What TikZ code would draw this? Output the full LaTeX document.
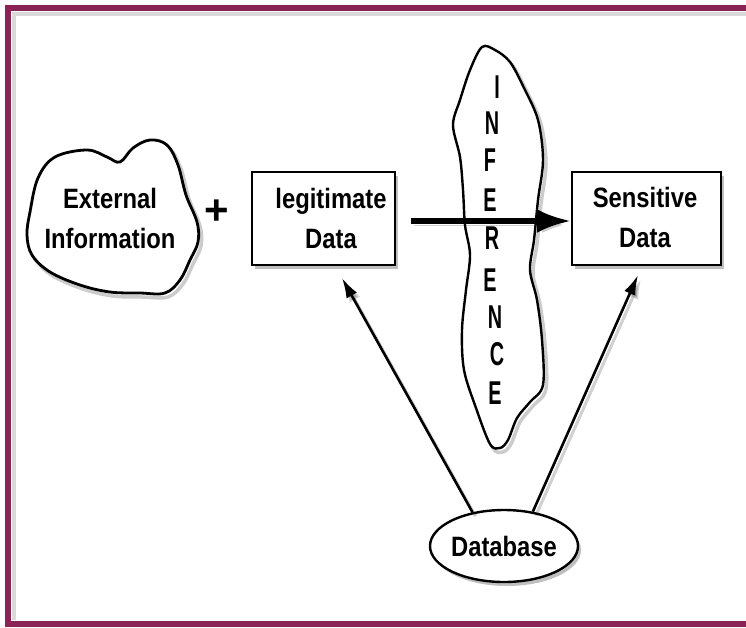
\documentclass[tikz,border=0pt]{standalone}
\usepackage{fontspec}
\setmainfont{Liberation Sans}
\usetikzlibrary{arrows.meta,shapes.geometric,calc,shadows}
\definecolor{framecol}{RGB}{137,36,86}
\begin{document}
\begin{tikzpicture}[x=1pt,y=-1pt,
  lbl/.style={font=\fontsize{28}{40}\selectfont\bfseries, align=center, xscale=0.85, inner sep=0pt},
  letter/.style={font=\fontsize{33}{33}\selectfont\bfseries, xscale=0.6, inner sep=0pt},
  boxnode/.style={draw, fill=white, line width=2.4pt, minimum height=93pt, inner sep=0pt,
    drop shadow={shadow xshift=3pt, shadow yshift=-4pt, opacity=0.25, fill=black}},
  dbnode/.style={ellipse, draw, fill=white, line width=2.4pt, minimum width=148pt, minimum height=72pt, inner sep=0pt,
    drop shadow={shadow xshift=3pt, shadow yshift=-4pt, opacity=0.25, fill=black}},
  blob/.style={draw, fill=white, line width=2.8pt},
  blobshadow/.style={draw=black, opacity=0.2, line width=3.5pt, transform canvas={shift={(3pt,-4pt)}}},
  conn/.style={line width=2.6pt, -{Latex[length=20pt,width=12pt]},
    preaction={draw=black, opacity=0.18, line width=3pt, transform canvas={shift={(3pt,-4pt)}}}},
  mainarrow/.style={line width=5.5pt, -{Latex[length=34pt,width=24pt]},
    preaction={draw=black, opacity=0.18, transform canvas={shift={(3pt,-4pt)}}}}
]
\useasboundingbox (0,0) rectangle (746,627);
\fill[white] (0,0) rectangle (746,627);
% frame
\draw[black, opacity=0.15, line width=4pt] (14,620) -- (14,14) -- (746,14);
\draw[framecol, line width=6pt] (8,8) rectangle (800,624);

% External Information blob
\draw[blobshadow] plot[smooth cycle, tension=0.6] coordinates {(30,212) (38,178) (55,157) (87,150) (107,157) (120,162) (133,148) (150,140) (167,145) (178,165) (186,195) (197,222) (198,242) (190,260) (180,280) (165,293) (140,293) (110,292) (80,285) (50,272) (32,255) (27,235)};
\draw[blob] plot[smooth cycle, tension=0.6] coordinates {(30,212) (38,178) (55,157) (87,150) (107,157) (120,162) (133,148) (150,140) (167,145) (178,165) (186,195) (197,222) (198,242) (190,260) (180,280) (165,293) (140,293) (110,292) (80,285) (50,272) (32,255) (27,235)};
\node[lbl] (ext) at (110,218) {External\\Information};

% plus
\node[font=\fontsize{42}{42}\selectfont\bfseries, inner sep=0pt] (plus) at (217,212) {+};

% legitimate data box
\node[boxnode, minimum width=143pt] (legit) at (323.5,218.5) {};
\node[lbl] (legitT) at (331,218) {legitimate\\Data};

% sensitive data box
\node[boxnode, minimum width=149pt] (sens) at (646.5,218.5) {};
\node[lbl] (sensT) at (645,217) {Sensitive\\Data};

% Inference blob
\draw[blobshadow] plot[smooth cycle, tension=0.55] coordinates {(482,47) (495,50) (510,62) (524,88) (538,120) (543,160) (538,200) (534,240) (530,270) (537,300) (542,340) (543,385) (530,402) (517,418) (508,440) (500,448) (490,444) (476,408) (464,370) (462,330) (466,290) (470,255) (465,225) (463,190) (460,157) (453,125) (460,100) (470,70)};
\draw[blob, line width=2.4pt] plot[smooth cycle, tension=0.55] coordinates {(482,47) (495,50) (510,62) (524,88) (538,120) (543,160) (538,200) (534,240) (530,270) (537,300) (542,340) (543,385) (530,402) (517,418) (508,440) (500,448) (490,444) (476,408) (464,370) (462,330) (466,290) (470,255) (465,225) (463,190) (460,157) (453,125) (460,100) (470,70)};
\node[letter] (i1) at (497,87) {I};
\node[letter] (i2) at (492,123) {N};
\node[letter] (i3) at (490,160) {F};
\node[letter] (i4) at (490,200) {E};
\node[letter] (i5) at (492,238) {R};
\node[letter] (i6) at (490,280) {E};
\node[letter] (i7) at (495,317) {N};
\node[letter] (i8) at (497,354) {C};
\node[letter] (i9) at (495,393) {E};

% main arrow
\draw[mainarrow] ([yshift=-2.5pt]legit.east) ++(15,0) coordinate (ms) -- (ms -| sens.west);

% database
\node[dbnode] (db) at (504,546) {};
\node[lbl] (dbT) at (504,546) {Database};

\coordinate (lt) at (342,278);
\coordinate (rt) at (638,275);
\draw[conn] (db.133) -- (lt);
\draw[conn] (db.50) -- (rt);
\end{tikzpicture}
\end{document}
